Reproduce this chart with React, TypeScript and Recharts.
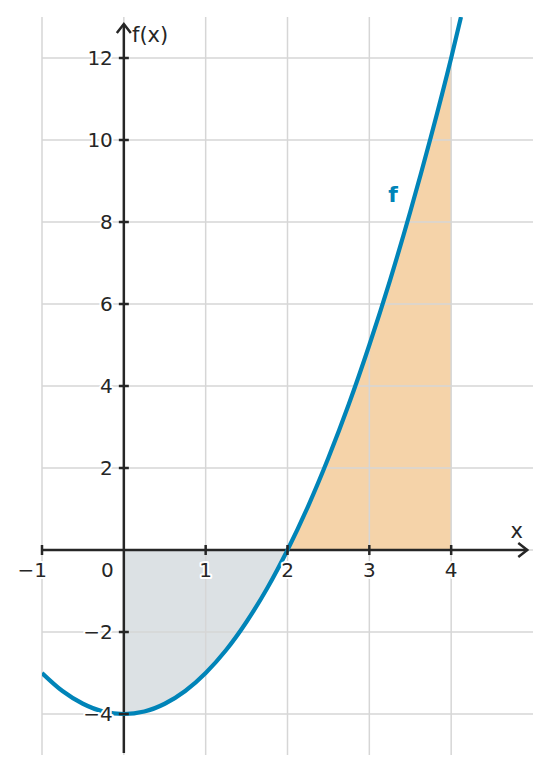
import React from "react";
import { ComposedChart, XAxis, YAxis, Line, Area, ReferenceLine, ReferenceDot } from "recharts";

const xs = [-1, -0.75, -0.5, -0.25, 0, 0.25, 0.5, 0.75, 1, 1.25, 1.5, 1.75, 2, 2.25, 2.5, 2.75, 3, 3.25, 3.5, 3.75, 4, 4.12];
const fValues = [-3, -3.44, -3.75, -3.94, -4, -3.94, -3.75, -3.44, -3, -2.44, -1.75, -0.94, 0, 1.06, 2.25, 3.56, 5, 6.56, 8.25, 10.06, 12, 13];
const leftShade = [null, null, null, null, -4, -3.94, -3.75, -3.44, -3, -2.44, -1.75, -0.94, 0, null, null, null, null, null, null, null, null, null];
const rightShade = [null, null, null, null, null, null, null, null, null, null, null, null, 0, 1.06, 2.25, 3.56, 5, 6.56, 8.25, 10.06, 12, null];

const xTicks = [-1, 0, 1, 2, 3, 4];
const yTicks = [-4, -2, 2, 4, 6, 8, 10, 12];
const xGrid = [-1, 0, 1, 2, 3, 4];
const yGrid = [-4, -2, 0, 2, 4, 6, 8, 10, 12];

const data = xs.map((x, i) => ({ x, f: fValues[i], left: leftShade[i], right: rightShade[i] }));

const AXIS = "#262626";
const GRID = "#d6d6d6";
const BLUE = "#0084b8";
const FONT = "DejaVu Sans";
const FS = 20;

const haloProps = { stroke: "#fff", strokeWidth: 4, paintOrder: "stroke" as any, strokeLinejoin: "round" as any };

function XArrow(p: any) {
  const { x1, y1, x2, y2 } = p;
  return (
    <g>
      <line x1={x1} y1={y1} x2={x2} y2={y2} stroke={AXIS} strokeWidth={2.5} />
      <path d={`M ${x2 - 9} ${y2 - 7} L ${x2} ${y2} L ${x2 - 9} ${y2 + 7}`} fill="none" stroke={AXIS} strokeWidth={2.5} />
    </g>
  );
}

function YArrow(p: any) {
  const { x1, y1, x2, y2 } = p;
  const top = Math.min(y1, y2);
  return (
    <g>
      <line x1={x1} y1={y1} x2={x2} y2={y2} stroke={AXIS} strokeWidth={2.5} />
      <path d={`M ${x1 - 7} ${top + 9} L ${x1} ${top} L ${x1 + 7} ${top + 9}`} fill="none" stroke={AXIS} strokeWidth={2.5} />
    </g>
  );
}

function xTickShape(t: number) {
  return (p: any) => {
    const { cx, cy } = p;
    let anchor = "middle";
    let tx = cx;
    if (t === -1) { anchor = "end"; tx = cx + 5; }
    if (t === 0) { anchor = "end"; tx = cx - 10; }
    return (
      <g>
        {t !== 0 && <line x1={cx} y1={cy - 5} x2={cx} y2={cy + 5} stroke={AXIS} strokeWidth={2.5} />}
        <text x={tx} y={cy + 20} textAnchor={anchor} dominantBaseline="central" fontFamily={FONT} fontSize={FS} fill={AXIS} {...haloProps}>
          {t < 0 ? `\u2212${Math.abs(t)}` : `${t}`}
        </text>
      </g>
    );
  };
}

function yTickShape(t: number) {
  return (p: any) => {
    const { cx, cy } = p;
    return (
      <g>
        <line x1={cx - 5} y1={cy} x2={cx + 5} y2={cy} stroke={AXIS} strokeWidth={2.5} />
        <text x={cx - 11} y={cy} textAnchor="end" dominantBaseline="central" fontFamily={FONT} fontSize={FS} fill={AXIS} {...haloProps}>
          {t < 0 ? `\u2212${Math.abs(t)}` : `${t}`}
        </text>
      </g>
    );
  };
}

function labelShape(txt: string, anchor: string, color: string, weight: string, size: number) {
  return (p: any) => (
    <text x={p.cx} y={p.cy} textAnchor={anchor} dominantBaseline="central" fontFamily={FONT} fontSize={size} fontWeight={weight} fill={color}>
      {txt}
    </text>
  );
}

export default function App() {
  return (
    <div style={{ width: 551, height: 773 }}>
      <style>{"body{margin:0}"}</style>
      <ComposedChart width={551} height={773} data={data} margin={{ top: 17, right: 18, bottom: 18, left: 42 }}>
        <XAxis type="number" dataKey="x" domain={[-1, 5]} hide allowDataOverflow />
        <YAxis type="number" domain={[-5, 13]} hide allowDataOverflow />
        {xGrid.map((g) => (
          <ReferenceLine key={"vx" + g} x={g} stroke={GRID} strokeWidth={1.5} />
        ))}
        {yGrid.map((g) => (
          <ReferenceLine key={"hy" + g} y={g} stroke={GRID} strokeWidth={1.5} />
        ))}
        <Area dataKey="left" type="monotone" baseValue={0} fill="#dce1e4" fillOpacity={1} stroke="none" isAnimationActive={false} connectNulls={false} />
        <Area dataKey="right" type="monotone" baseValue={0} fill="#f5d3a9" fillOpacity={1} stroke="none" isAnimationActive={false} connectNulls={false} />
        <ReferenceLine segment={[{ x: -1, y: 0 }, { x: 4.93, y: 0 }]} shape={XArrow} />
        <ReferenceLine segment={[{ x: 0, y: -4.95 }, { x: 0, y: 12.83 }]} shape={YArrow} />
        <Line dataKey="f" type="monotone" stroke={BLUE} strokeWidth={4.2} dot={false} isAnimationActive={false} />
        {xTicks.map((t) => (
          <ReferenceDot key={"xt" + t} x={t} y={0} shape={xTickShape(t)} />
        ))}
        {yTicks.map((t) => (
          <ReferenceDot key={"yt" + t} x={0} y={t} shape={yTickShape(t)} />
        ))}
        <ReferenceDot x={0.1} y={12.55} shape={labelShape("f(x)", "start", AXIS, "normal", 21)} />
        <ReferenceDot x={4.8} y={0.46} shape={labelShape("x", "middle", AXIS, "normal", 21)} />
        <ReferenceDot x={3.29} y={8.66} shape={labelShape("f", "middle", BLUE, "bold", 22)} />
      </ComposedChart>
    </div>
  );
}
